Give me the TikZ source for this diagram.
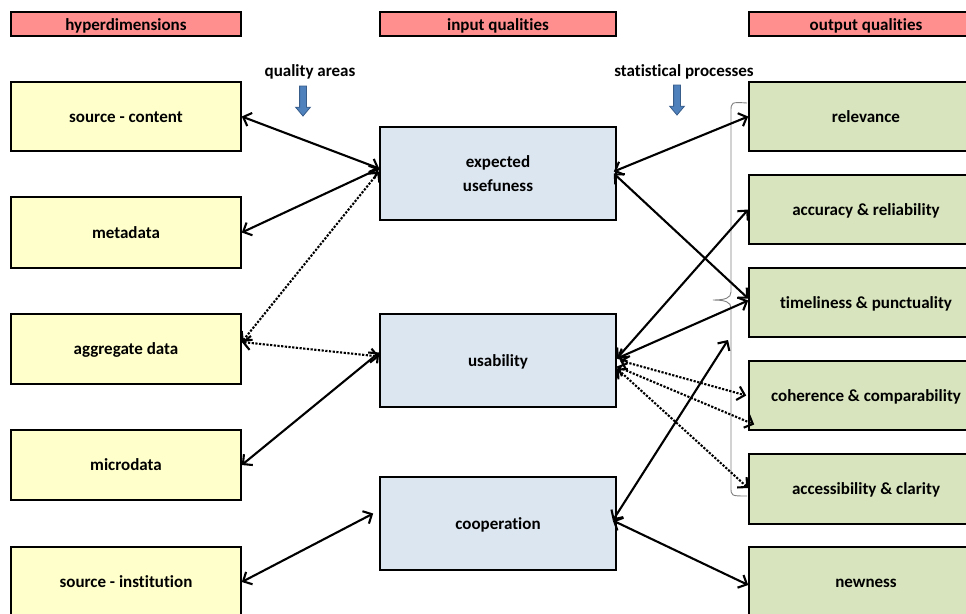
\documentclass[tikz,border=0pt]{standalone}
\usepackage{fontspec}
\setmainfont{Carlito}[Ligatures=NoCommon]
\usetikzlibrary{arrows.meta,shapes.arrows}
\definecolor{headred}{RGB}{255,143,143}
\definecolor{dimyellow}{RGB}{255,255,204}
\definecolor{inblue}{RGB}{220,230,241}
\definecolor{outgreen}{RGB}{215,228,189}
\definecolor{pointblue}{RGB}{79,129,189}
\definecolor{pointedge}{RGB}{56,93,138}
\tikzstyle{header} = [draw, fill=headred, line width=1.6pt, minimum height=24pt, inner sep=0pt, text height=12pt, text depth=0pt, text centered]
\tikzstyle{dimbox} = [draw, fill=dimyellow, line width=1.6pt, minimum width=230pt, minimum height=70pt, text height=12pt, text depth=1pt, text centered]
\tikzstyle{inbox} = [draw, fill=inblue, line width=1.6pt, minimum width=236pt, minimum height=93pt, text height=12pt, text depth=1pt, text centered, align=center]
\tikzstyle{outbox} = [draw, fill=outgreen, line width=1.6pt, minimum width=234pt, minimum height=70pt, text height=12pt, text depth=1pt, text centered]
\tikzstyle{pointer} = [single arrow, draw=pointedge, fill=pointblue, line width=0.8pt, inner sep=3pt, minimum height=30pt, single arrow head extend=4pt, single arrow tip angle=80, shape border rotate=270]
\tikzstyle{link} = [draw, line width=2.1pt, {Straight Barb[length=7pt,width=14pt]}-{Straight Barb[length=7pt,width=14pt]}]
\tikzstyle{dotlink} = [link, dash pattern=on 2.2pt off 1.5pt]

\begin{document}
\begin{tikzpicture}[x=1pt, y=-1pt, font=\bfseries\fontsize{17}{21}\selectfont]
    \clip (0,0) rectangle (966,613);
    \fill[white] (0,0) rectangle (966,613);
    % column headers
    \node[header, minimum width=230pt] (hhyper) at (126,24) {hyperdimensions};
    \node[header, minimum width=236pt] (hinput) at (498,24) {input qualities};
    \node[header, minimum width=234pt] (houtput) at (866,24) {output qualities};
    \node (areas) at (310,72) {quality areas};
    \node (processes) at (684,72) {statistical processes};
    \node[pointer] (areasdown) at (303,99) {};
    \node[pointer] (processesdown) at (677,98) {};
    % hyperdimensions
    \node[dimbox, minimum height=69pt] (content) at (126,116.5) {source - content};
    \node[dimbox, minimum height=71pt] (metadata) at (126,232.5) {metadata};
    \node[dimbox] (aggregate) at (126,349) {aggregate data};
    \node[dimbox] (microdata) at (126,465) {microdata};
    \node[dimbox] (institution) at (126,582) {source - institution};
    % input qualities
    \node[inbox, font=\bfseries\fontsize{17}{24}\selectfont, text height=36pt] (usefuness) at (498,173.5) {expected\\usefuness};
    \node[inbox] (usability) at (498,360.5) {usability};
    \node[inbox] (cooperation) at (498,523.5) {cooperation};
    % output qualities
    \node[outbox, minimum height=69pt] (relevance) at (866,116.5) {relevance};
    \node[outbox, minimum height=69pt] (accuracy) at (866,209.5) {accuracy \& reliability};
    \node[outbox, minimum height=69pt] (timeliness) at (866,302.5) {timeliness \& punctuality};
    \node[outbox, minimum height=69pt] (coherence) at (866,395.5) {coherence \& comparability};
    \node[outbox] (accessibility) at (866,489) {accessibility \& clarity};
    \node[outbox] (newness) at (866,582) {newness};
    % brace in front of the output qualities
    \draw[gray, line width=0.9pt] (747,103) .. controls (731,102) .. (731,112) -- (731,292)
        .. controls (731,298) and (725,300) .. (713,300)
        .. controls (725,300) and (731,302) .. (731,308) -- (731,487)
        .. controls (731,496) .. (747,496);
    \coordinate (coopend) at (728,340);
    \coordinate (instend) at ([xshift=-6pt,yshift=10pt]cooperation.west);
    % left links
    \path[link] (content.east) -- ([yshift=5pt]usefuness.west);
    \path[link] (metadata.east) -- ([yshift=5pt]usefuness.west);
    \path[dotlink] ([yshift=7pt]aggregate.east) -- ([yshift=2pt]usefuness.west);
    \path[dotlink] ([yshift=7pt]aggregate.east) -- ([yshift=4pt]usability.west);
    \path[link] (microdata.east) -- ([yshift=8pt]usability.west);
    \path[link] (institution.east) -- (instend);
    % right links
    \path[link] ([xshift=-3pt,yshift=2pt]usefuness.east) -- (relevance.west);
    \path[link] ([xshift=-3pt]usefuness.east) -- ([yshift=4pt]timeliness.west);
    \path[link] ([yshift=2pt]usability.east) -- (accuracy.west);
    \path[link] ([yshift=2pt]usability.east) -- ([yshift=2pt]timeliness.west);
    \path[dotlink] ([xshift=3pt]usability.east) -- ([xshift=-2pt]coherence.west);
    \path[dotlink] ([yshift=-6pt]usability.east) -- ([xshift=6pt,yshift=-29pt]coherence.west);
    \path[dotlink] ([yshift=-8pt]usability.east) -- ([yshift=1pt]accessibility.west);
    \path[link] ([xshift=-4pt,yshift=3pt]cooperation.east) -- (coopend);
    \path[link] ([xshift=-4pt,yshift=3pt]cooperation.east) -- ([yshift=-3pt]newness.west);
\end{tikzpicture}
\end{document}
